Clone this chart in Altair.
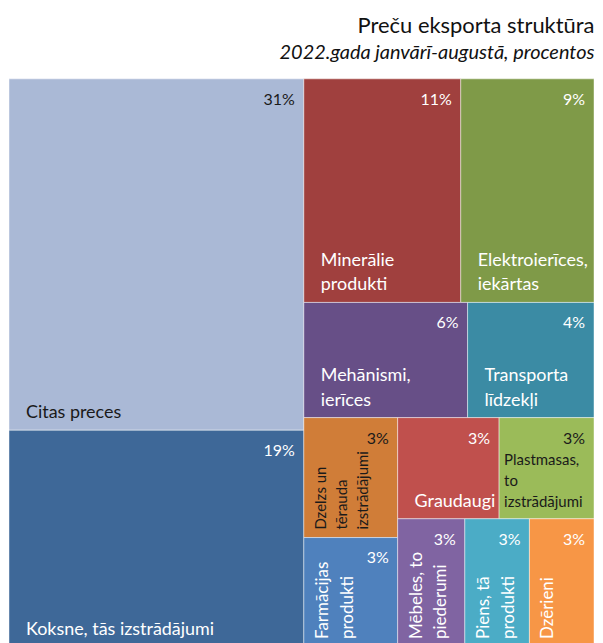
import altair as alt
import pandas as pd

# ---- data (shares in %, labels as displayed) ----
categories = [
    "Citas preces", "Koksne, tās izstrādājumi", "Minerālie produkti",
    "Elektroierīces, iekārtas", "Mehānismi, ierīces", "Transporta līdzekļi",
    "Dzelzs un tērauda izstrādājumi", "Farmācijas produkti", "Graudaugi",
    "Plastmasas, to izstrādājumi", "Mēbeles, to piederumi", "Piens, tā produkti",
    "Dzērieni",
]
labels = [
    "Citas preces", "Koksne, tās izstrādājumi", "Minerālie\nprodukti",
    "Elektroierīces,\niekārtas", "Mehānismi,\nierīces", "Transporta\nlīdzekļi",
    "Dzelzs un\ntērauda\nizstrādājumi", "Farmācijas\nprodukti", "Graudaugi",
    "Plastmasas,\nto\nizstrādājumi", "Mēbeles, to\npiederumi", "Piens, tā\nprodukti",
    "Dzērieni",
]
shares = [31.3, 19.3, 10.6, 9.0, 5.7, 4.4, 3.4, 3.1, 3.1, 2.9, 2.6, 2.5, 2.5]

palette = ["#AAB9D6", "#3E6898", "#A0403E", "#7F9A48", "#674F87", "#3B8BA4",
           "#D07D38", "#4F81BD", "#C0504D", "#9BBB59", "#8064A2", "#4BACC6", "#F79646"]
dark_text = ["Citas preces", "Dzelzs un tērauda izstrādājumi", "Plastmasas, to izstrādājumi"]

W, H = 587, 570
FONT = "Lato"
LH_BIG, LH_SMALL = 25, 21


# ---- squarified treemap layout computed from the shares ----
def worst(row, side):
    s = sum(row)
    return max(side * side * max(row) / (s * s), (s * s) / (side * side * min(row)))


def squarify(values, x, y, w, h):
    total = sum(values)
    areas = [v / total * w * h for v in values]
    rects = []
    i = 0
    while i < len(areas):
        side = min(w, h)
        row = [areas[i]]
        i += 1
        while i < len(areas) and worst(row + [areas[i]], side) <= worst(row, side):
            row.append(areas[i])
            i += 1
        s = sum(row)
        if w >= h:
            cw = s / h
            yy = y
            for a in row:
                rh = a / cw
                rects.append((x, yy, x + cw, yy + rh))
                yy += rh
            x += cw
            w -= cw
        else:
            rh = s / w
            xx = x
            for a in row:
                rw = a / rh
                rects.append((xx, y, xx + rw, y + rh))
                xx += rw
            y += rh
            h -= rh
    return rects


rects = squarify(shares, 0, 0, W, H)
df = pd.DataFrame({
    "category": categories,
    "label": labels,
    "share": shares,
    "pct": [f"{int(v + 0.5)}%" for v in shares],
    "x0": [r[0] for r in rects],
    "y0": [r[1] for r in rects],
    "x1": [r[2] for r in rects],
    "y1": [r[3] for r in rects],
})
tw = df["x1"] - df["x0"]
th = df["y1"] - df["y0"]
df["nl"] = df["label"].str.count("\n")
df["rot"] = (tw < 100) & (th / tw > 1.1)
df["small"] = df["nl"] >= 2
df["dark"] = df["category"].isin(dark_text)

xs = alt.Scale(domain=[0, W], nice=False, zero=False)
ys = alt.Scale(domain=[0, H], nice=False, zero=False, reverse=True)
txt_color = alt.condition("datum.dark", alt.value("#1a1a1a"), alt.value("#ffffff"))

base = alt.Chart(df)


def pos():
    return dict(
        x=alt.X("px:Q", scale=xs, axis=None),
        y=alt.Y("py:Q", scale=ys, axis=None),
    )


tiles = base.mark_rect(stroke="#ffffff", strokeWidth=1, strokeOpacity=0.45).encode(
    x=alt.X("x0:Q", scale=xs, axis=None),
    x2="x1:Q",
    y=alt.Y("y0:Q", scale=ys, axis=None),
    y2="y1:Q",
    color=alt.Color("category:N", scale=alt.Scale(domain=categories, range=palette), legend=None),
)

pct = base.transform_calculate(
    px="datum.x1 - 9", py="datum.y0 + 13"
).mark_text(align="right", baseline="top", font=FONT, fontSize=16).encode(
    **pos(), text="pct:N", color=txt_color,
)

names_big = base.transform_filter("!datum.rot && !datum.small").transform_calculate(
    px="datum.x0 + 17", py=f"datum.y1 - 8 - datum.nl * {LH_BIG}"
).mark_text(align="left", baseline="bottom", font=FONT, fontSize=18,
            lineHeight=LH_BIG, lineBreak="\n").encode(
    **pos(), text="label:N", color=txt_color,
)

names_small = base.transform_filter("!datum.rot && datum.small").transform_calculate(
    px="datum.x0 + 5", py=f"datum.y1 - 9 - datum.nl * {LH_SMALL}"
).mark_text(align="left", baseline="bottom", font=FONT, fontSize=15,
            lineHeight=LH_SMALL, lineBreak="\n").encode(
    **pos(), text="label:N", color=txt_color,
)

rot_big = base.transform_filter("datum.rot && !datum.small").transform_calculate(
    px="datum.x0 + 11", py="datum.y1 - 8"
).mark_text(align="left", baseline="top", angle=270, font=FONT, fontSize=17,
            lineHeight=LH_BIG, lineBreak="\n").encode(
    **pos(), text="label:N", color=txt_color,
)

rot_small = base.transform_filter("datum.rot && datum.small").transform_calculate(
    px="datum.x0 + 10", py="datum.y1 - 8"
).mark_text(align="left", baseline="top", angle=270, font=FONT, fontSize=15,
            lineHeight=LH_SMALL, lineBreak="\n").encode(
    **pos(), text="label:N", color=txt_color,
)

chart = alt.layer(tiles, pct, names_big, names_small, rot_big, rot_small).properties(
    width=W,
    height=H,
    padding={"left": 0, "right": 0, "top": 5, "bottom": 0},
    title=alt.TitleParams(
        text="Preču eksporta struktūra",
        subtitle="2022.gada janvārī-augustā, procentos",
        anchor="end",
        font=FONT,
        fontSize=22,
        fontWeight="normal",
        color="#111111",
        subtitleFont=FONT,
        subtitleFontSize=20,
        subtitleFontStyle="italic",
        subtitleColor="#111111",
        subtitlePadding=6,
        offset=14,
    ),
).configure_view(stroke=None)

chart.save("out.html", embed_options={"renderer": "svg", "actions": False})
